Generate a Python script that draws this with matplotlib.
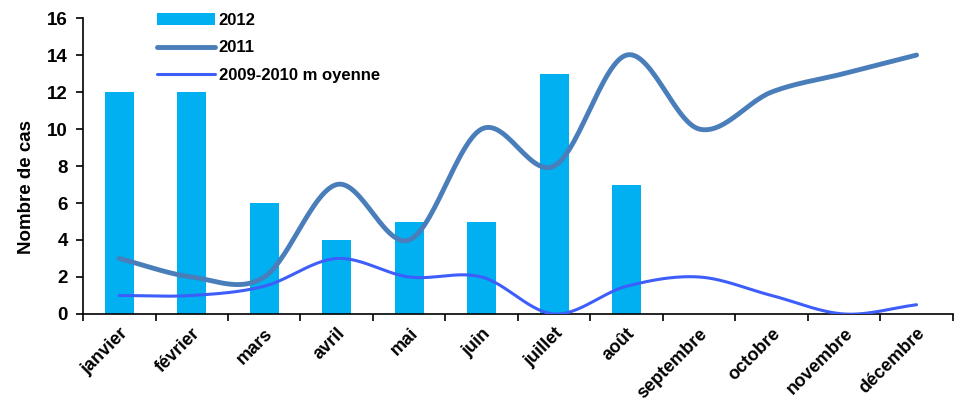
import numpy as np
import matplotlib
matplotlib.use("Agg")
import matplotlib.pyplot as plt

plt.rcParams["font.family"] = ["Liberation Sans", "DejaVu Sans"]

# === data ===
months = ["janvier", "février", "mars", "avril", "mai", "juin", "juillet",
          "août", "septembre", "octobre", "novembre", "décembre"]
cases_2012 = [12, 12, 6, 4, 5, 5, 13, 7]
cases_2011 = [3, 2, 2, 7, 4, 10, 8, 14, 10, 12, 13, 14]
avg_2009_2010 = [1, 1, 1.5, 3, 2, 2, 0, 1.5, 2, 1, 0, 0.5]


def smooth(x, y, n=30):
    # Catmull-Rom spline through the points (like Excel's smoothed line)
    x = np.asarray(x, float)
    y = np.asarray(y, float)
    px = np.concatenate([[2 * x[0] - x[1]], x, [2 * x[-1] - x[-2]]])
    py = np.concatenate([[2 * y[0] - y[1]], y, [2 * y[-1] - y[-2]]])
    xs, ys = [], []
    t = np.linspace(0, 1, n)
    for i in range(1, len(px) - 2):
        for p, out in ((px, xs), (py, ys)):
            p0, p1, p2, p3 = p[i - 1], p[i], p[i + 1], p[i + 2]
            out.extend(0.5 * ((2 * p1) + (-p0 + p2) * t
                              + (2 * p0 - 5 * p1 + 4 * p2 - p3) * t ** 2
                              + (-p0 + 3 * p1 - 3 * p2 + p3) * t ** 3))
    return np.array(xs), np.array(ys)


fig = plt.figure(figsize=(9.6, 4.01), dpi=100)
ax = fig.add_axes([0.0865, 0.217, 0.906, 0.738])

x = np.arange(len(months))
b = ax.bar(x[:len(cases_2012)], cases_2012, width=0.4, color="#00B0F0", label="2012", zorder=2)
sx, sy = smooth(x, cases_2011)
l1, = ax.plot(sx, sy, color="#4A7EBB", lw=3.5, solid_capstyle="round", label="2011", zorder=3)
sx, sy = smooth(x, avg_2009_2010)
l2, = ax.plot(sx, sy, color="#3D5EFA", lw=2.2, solid_capstyle="round",
              label="2009-2010 m oyenne", zorder=3)

ax.set_xlim(-0.5, len(months) - 0.5)
ax.set_ylim(0, 16)
ax.set_yticks(range(0, 17, 2))
ax.set_xticks(np.arange(-0.5, len(months), 1))
ax.set_xticklabels([])
ax.set_xticks(x, minor=True)
ax.set_xticklabels(months, minor=True, rotation=45, ha="right", va="top",
                   rotation_mode="anchor", fontsize=13, fontweight="bold")
ax.tick_params(axis="x", which="minor", length=0, pad=8)
ax.tick_params(axis="x", which="major", length=5, width=1.2, direction="out")
ax.tick_params(axis="y", length=5, width=1.2, direction="out", labelsize=13.5, pad=6)
for lab in ax.get_yticklabels():
    lab.set_fontweight("bold")

for s in ["top", "right"]:
    ax.spines[s].set_visible(False)
ax.spines["left"].set_linewidth(1.2)
ax.spines["bottom"].set_linewidth(1.2)

ax.set_ylabel("Nombre de cas", fontsize=13.5, fontweight="bold")
ax.yaxis.set_label_coords(-0.055, 0.43)

fig.legend([b, l1, l2], ["2012", "2011", "2009-2010 m oyenne"],
           loc="upper left", bbox_to_anchor=(0.148, 1.005), frameon=False,
           prop={"weight": "bold", "size": 12}, handlelength=3.5,
           handletextpad=0.2, labelspacing=0.75)

fig.savefig("out.png", dpi=100)
